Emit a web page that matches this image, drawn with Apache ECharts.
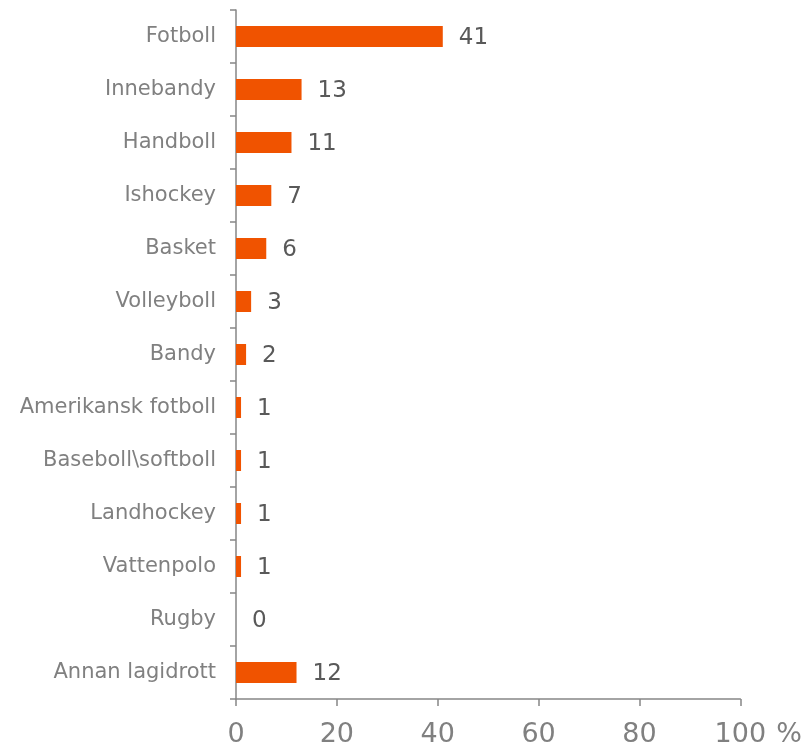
<!DOCTYPE html>
<html>
<head>
<meta charset="utf-8">
<script src="https://cdn.jsdelivr.net/npm/echarts@6/dist/echarts.min.js"></script>
<style>
html, body { margin: 0; padding: 0; background: #fff; }
#main { width: 805px; height: 748px; }
</style>
</head>
<body>
<div id="main"></div>
<script>
// kategorier, uppifrån och ner
var sporter = ['Fotboll', 'Innebandy', 'Handboll', 'Ishockey', 'Basket', 'Volleyboll', 'Bandy',
	'Amerikansk fotboll', 'Baseboll\\softboll', 'Landhockey', 'Vattenpolo', 'Rugby', 'Annan lagidrott']
var andel = [41, 13, 11, 7, 6, 3, 2, 1, 1, 1, 1, 0, 12]

var myChart = echarts.init(document.getElementById('main'))
var option = {
	animation: false,
	grid: { left: 236, right: 64, top: 10, bottom: 48 },
	xAxis: {
		type: 'value',
		min: 0,
		max: 100,
		interval: 20,
		name: '%', // procenttecknet efter 100
		nameLocation: 'end',
		nameGap: 36,
		nameTextStyle: {
			color: '#808080',
			fontSize: 27,
			fontFamily: 'DejaVu Sans',
			align: 'left',
			verticalAlign: 'top',
			padding: [22, 0, 0, 0]
		},
		splitLine: { show: false },
		axisLine: { show: true, lineStyle: { color: '#868686', width: 1.5 } },
		axisTick: { show: true, length: 7, lineStyle: { color: '#868686', width: 1.5 } },
		axisLabel: {
			color: '#808080',
			fontSize: 27,
			fontFamily: 'DejaVu Sans',
			margin: 22
		}
	},
	yAxis: {
		type: 'category',
		data: sporter,
		inverse: true,
		axisLine: { show: true, lineStyle: { color: '#868686', width: 1.5 } },
		axisTick: { show: true, length: 6, lineStyle: { color: '#868686', width: 1.5 } },
		axisLabel: {
			color: '#808080',
			fontSize: 21,
			fontFamily: 'DejaVu Sans',
			margin: 20
		}
	},
	series: [{
		type: 'bar',
		data: andel,
		barWidth: 21,
		itemStyle: { color: '#f05300' },
		label: {
			show: true,
			position: 'right',
			distance: 16,
			offset: [0, 2],
			color: '#595959',
			fontSize: 23,
			fontFamily: 'DejaVu Sans'
		}
	}]
}
myChart.setOption(option)
</script>
</body>
</html>
